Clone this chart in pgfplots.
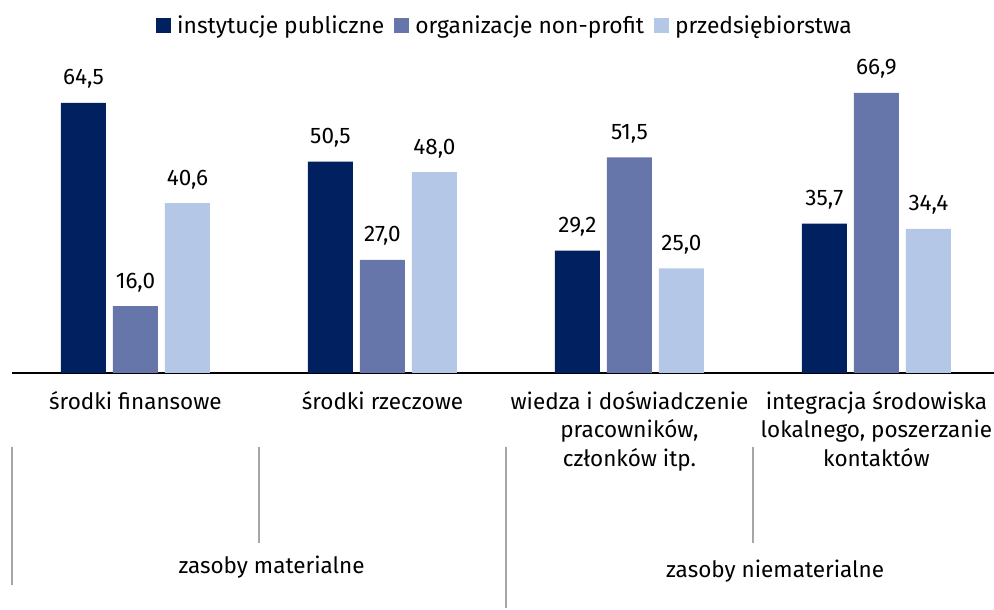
\documentclass[border=0pt]{standalone}
\usepackage{fontspec}
\setmainfont{Fira Sans}
\usepackage{pgfplots}
\pgfplotsset{compat=1.18}
\definecolor{c1}{HTML}{002060}
\definecolor{c2}{HTML}{6676AB}
\definecolor{c3}{HTML}{B4C7E7}
\definecolor{sepc}{HTML}{A6A6A6}
\begin{document}
\begin{tikzpicture}
\path[use as bounding box] (0,0) rectangle (994pt,610pt);
\begin{axis}[
  at={(12pt,237pt)}, anchor=south west, scale only axis,
  width=982pt, height=314pt,
  xmin=-0.5, xmax=3.476, ymin=0, ymax=75,
  axis y line=none, axis x line*=bottom,
  x axis line style={line width=1.3pt, black, -},
  xtick={0,1,2,3},
  xticklabels={{środki finansowe},{środki rzeczowe},{wiedza i doświadczenie\\pracowników,\\członków itp.},{integracja środowiska\\lokalnego, poszerzanie\\kontaktów}},
  major tick length=0pt,
  xticklabel style={font=\fontsize{22.5}{28.5}\selectfont, align=center, anchor=north, inner sep=0pt, yshift=-18pt},
  ybar, bar width=45pt,
  nodes near coords,
  every node near coord/.append style={font=\fontsize{22.5}{26}\selectfont, anchor=base, inner sep=0pt, yshift=18pt, text=black},
  /pgf/number format/.cd, fixed, fixed zerofill, precision=1, use comma, assume math mode=true, /pgfplots/.cd,
  clip=false,
  legend columns=3,
  legend style={draw=none, fill=none, at={(0.502,1.108)}, anchor=center, font=\fontsize{22.8}{26}\selectfont,
    /tikz/every even column/.append style={column sep=8pt}, inner sep=0pt},
  legend image code/.code={\fill[#1] (0pt,-7.5pt) rectangle (15pt,7.5pt); \path (19pt,0pt);},
]
\addplot[fill=c1, draw=none, bar shift=-52pt] coordinates {(0,64.5) (1,50.5) (2,29.2) (3,35.7)};
\addplot[fill=c2, draw=none, bar shift=0pt] coordinates {(0,16.0) (1,27.0) (2,51.5) (3,66.9)};
\addplot[fill=c3, draw=none, bar shift=52pt] coordinates {(0,40.6) (1,48.0) (2,25.0) (3,34.4)};
\legend{instytucje publiczne, organizacje non-profit, przedsiębiorstwa}
\draw[sepc, line width=1.5pt] ([yshift=-74pt]axis cs:-0.5,0) -- ([yshift=-212pt]axis cs:-0.5,0);
\draw[sepc, line width=1.5pt] ([yshift=-74pt]axis cs:0.5,0) -- ([yshift=-170pt]axis cs:0.5,0);
\draw[sepc, line width=1.5pt] ([yshift=-74pt]axis cs:1.5,0) -- ([yshift=-235pt]axis cs:1.5,0);
\draw[sepc, line width=1.5pt] ([yshift=-74pt]axis cs:2.5,0) -- ([yshift=-170pt]axis cs:2.5,0);
\node[font=\fontsize{22.5}{26}\selectfont, inner sep=0pt] at ([yshift=-194pt]axis cs:0.551,0) {zasoby materialne};
\node[font=\fontsize{22.5}{26}\selectfont, inner sep=0pt] at ([yshift=-198pt]axis cs:2.59,0) {zasoby niematerialne};
\end{axis}
\end{tikzpicture}
\end{document}
